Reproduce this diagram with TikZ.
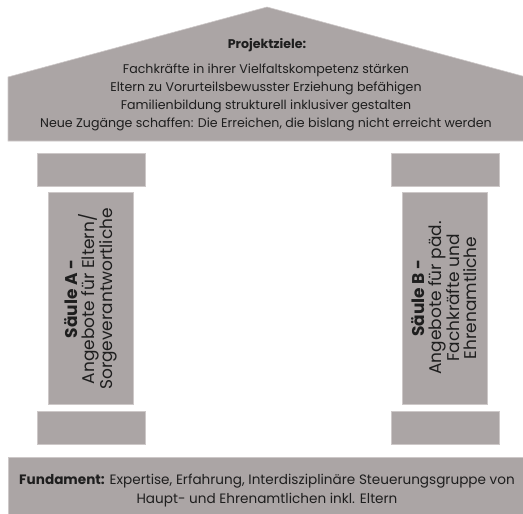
\documentclass[tikz,border=0pt]{standalone}
\usepackage{fontspec}
\setmainfont{Poppins}
\definecolor{stone}{RGB}{171,165,165}
\definecolor{stoneedge}{RGB}{205,200,200}
\definecolor{ink}{RGB}{30,30,30}
\begin{document}
\begin{tikzpicture}[x=1pt,y=-1pt,
  block/.style={fill=stone,draw=stoneedge,line width=0.6pt},
  rooftext/.style={text=ink,align=center,font=\fontsize{12.6}{18}\selectfont},
  pillartext/.style={text=ink,align=center,rotate=90,font=\fontsize{17}{16.5}\selectfont},
  basetext/.style={text=ink,align=center,font=\fontsize{13.6}{19}\selectfont}]
\useasboundingbox (0,0) rectangle (523,514);
% roof
\path[block] (8,141) -- (8,77) -- (267,7) -- (526,77) -- (526,141) -- cycle;
\node[rooftext] (title) at (267,45) {\textbf{Projektziele:}};
\node[rooftext] (goals) at (266,97) {Fachkräfte in ihrer Vielfaltskompetenz stärken\\
Eltern zu Vorurteilsbewusster Erziehung befähigen\\
Familienbildung strukturell inklusiver gestalten\\
Neue Zugänge schaffen: Die Erreichen, die bislang nicht erreicht werden};
% pillar A
\path[block] (37,153) rectangle (145,186);
\path[block] (48,192) rectangle (133,404);
\path[block] (37,411) rectangle (145,444);
\node[pillartext] (pa) at (91,299) {\textbf{Säule A -}\\Angebote für Eltern/\\Sorgeverantwortliche};
% pillar B
\path[block] (391,153) rectangle (499,186);
\path[block] (402,192) rectangle (487,404);
\path[block] (391,411) rectangle (499,444);
\node[pillartext] (pb) at (444,298) {\textbf{Säule B -}\\Angebote für päd.\\Fachkräfte und\\Ehrenamtliche};
% foundation
\path[block] (8,457) rectangle (526,518);
\node[basetext] (base) at (267,491) {\textbf{Fundament:} Expertise, Erfahrung, Interdisziplinäre Steuerungsgruppe von\\Haupt- und Ehrenamtlichen inkl. Eltern};
\end{tikzpicture}
\end{document}
